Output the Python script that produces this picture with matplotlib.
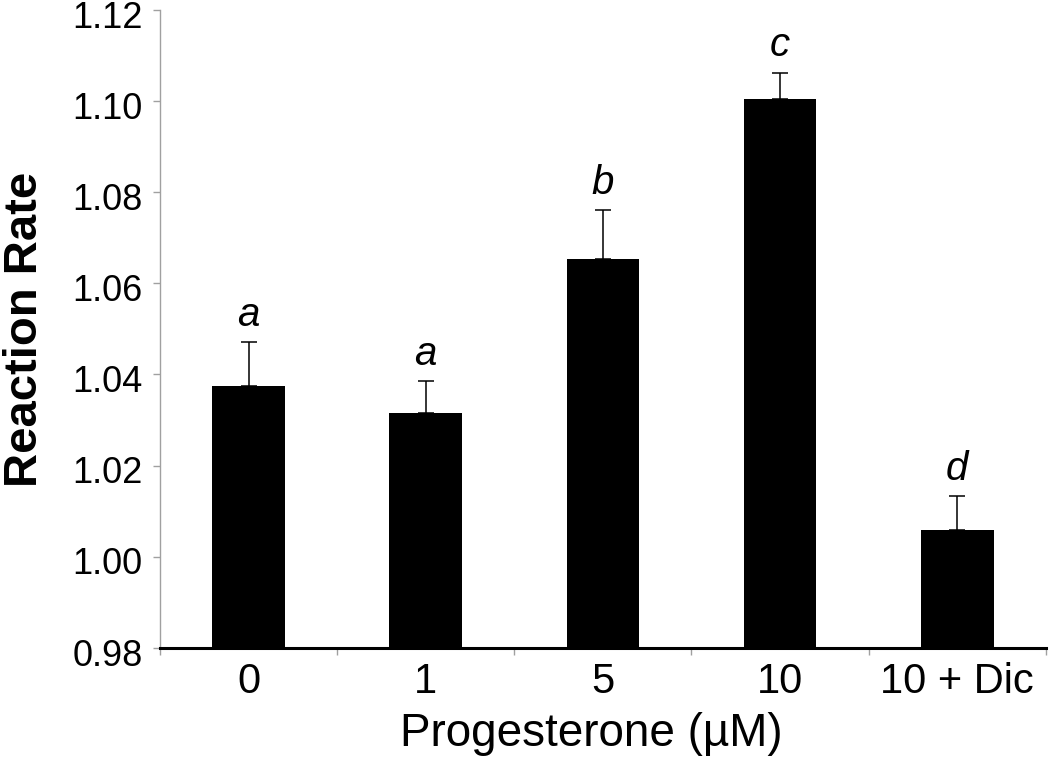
import matplotlib
matplotlib.use("Agg")
import matplotlib.pyplot as plt
import matplotlib.transforms as mtransforms
import numpy as np

plt.rcParams['font.family'] = ['Liberation Sans', 'DejaVu Sans']

# ---------------------------------------------------------
# DATA
# ---------------------------------------------------------
categories = ["0", "1", "5", "10", "10 + Dic"]
rates = [1.0375, 1.0315, 1.0653, 1.1004, 1.0059]
errors = [0.0096, 0.0071, 0.0107, 0.0058, 0.0074]
letters = ["a", "a", "b", "c", "d"]

# ---------------------------------------------------------
# FIGURE
# ---------------------------------------------------------
fig = plt.figure(figsize=(10.5, 7.57), dpi=100)
ax = fig.add_axes([0.1524, 0.144, 0.8436, 0.843])

x = np.arange(len(categories))
ax.bar(x, rates, width=0.41, color="black")
ax.errorbar(x, rates, yerr=[np.zeros(len(errors)), errors], fmt="none",
            ecolor="black", elinewidth=1.1, capsize=6, capthick=1.1)

for xi, r, e, lab in zip(x, rates, errors, letters):
    ax.annotate(lab, (xi, r + e), xytext=(0, 6), textcoords="offset points",
                ha="center", va="bottom", fontsize=29, style="italic")

ax.set_ylim(0.98, 1.12)
ax.set_xlim(-0.5, len(categories) - 0.5)
yticks = np.arange(0.98, 1.121, 0.02)
ax.set_yticks(yticks)
ax.set_yticklabels([f"{v:.2f}" for v in yticks])
ax.set_xticks(x)
ax.set_xticklabels(categories)
ax.set_xticks(np.arange(-0.5, len(categories), 1.0), minor=True)

ax.spines["top"].set_visible(False)
ax.spines["right"].set_visible(False)
ax.spines["left"].set_color("#a0a0a0")
ax.spines["left"].set_linewidth(1.0)
ax.spines["bottom"].set_color("black")
ax.spines["bottom"].set_linewidth(2.2)

ax.tick_params(axis="y", direction="out", length=5, width=1, color="#a0a0a0",
               labelsize=26, pad=7.5)
ax.tick_params(axis="x", which="major", length=0, labelsize=30, pad=10)
ax.tick_params(axis="x", which="minor", direction="out", length=5, width=1,
               color="#a0a0a0")

# y tick labels sit a little below their ticks
shift = mtransforms.ScaledTranslation(0, -3 / 72, fig.dpi_scale_trans)
for lbl in ax.get_yticklabels():
    lbl.set_transform(lbl.get_transform() + shift)

ax.set_ylabel("Reaction Rate", fontsize=34, fontweight="bold", labelpad=18)
ax.set_xlabel("Progesterone (\u00b5M)", fontsize=33)
ax.xaxis.set_label_coords((591 - 160) / 886, -0.1)

fig.savefig("out.png", dpi=100)
